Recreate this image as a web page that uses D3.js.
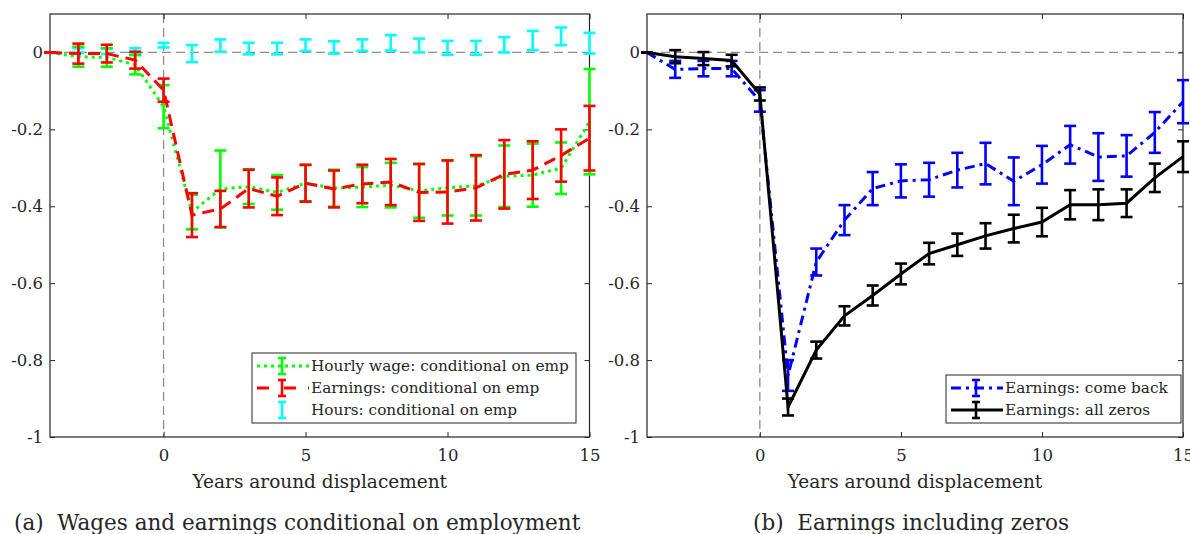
<!DOCTYPE html>
<html>
<head>
<meta charset="utf-8">
<script src="https://cdn.jsdelivr.net/npm/d3@7"></script>
<style>
body { margin: 0; background: #fff; }
text { font-family: "DejaVu Serif", "Liberation Serif", serif; fill: #262626; }
</style>
</head>
<body>
<script>
// years around displacement
let years = [-4,-3,-2,-1,0,1,2,3,4,5,6,7,8,9,10,11,12,13,14,15]
let xTicks = [0,5,10,15]
let yTicks = [-1,-0.8,-0.6,-0.4,-0.2,0]
let yTickLabels = ["-1","-0.8","-0.6","-0.4","-0.2","0"]

// panel (a)
let hourlyWage    = [0,-0.011,-0.013,-0.032,-0.141,-0.415,-0.355,-0.349,-0.364,-0.34,-0.353,-0.35,-0.345,-0.36,-0.352,-0.347,-0.322,-0.319,-0.301,-0.18]
let hourlyWageErr = [0,0.026,0.024,0.025,0.056,0.045,0.1,0.045,0.045,0.047,0.048,0.052,0.058,0.07,0.072,0.077,0.08,0.082,0.067,0.137]
let earnings      = [0,-0.003,-0.003,-0.02,-0.098,-0.423,-0.407,-0.354,-0.374,-0.34,-0.355,-0.342,-0.337,-0.364,-0.363,-0.352,-0.317,-0.306,-0.268,-0.223]
let earningsErr   = [0,0.026,0.023,0.022,0.03,0.057,0.047,0.049,0.049,0.048,0.048,0.05,0.06,0.074,0.082,0.085,0.089,0.075,0.068,0.084]
let hours         = [0,0.005,0.003,0.005,0.019,-0.003,0.018,0.01,0.01,0.019,0.013,0.019,0.025,0.018,0.012,0.012,0.02,0.031,0.042,0.024]
let hoursErr      = [0,0.006,0.007,0.006,0.006,0.022,0.016,0.015,0.015,0.015,0.016,0.015,0.02,0.018,0.018,0.018,0.02,0.025,0.023,0.027]

// panel (b)
let comeBack      = [0,-0.044,-0.042,-0.042,-0.126,-0.84,-0.545,-0.436,-0.354,-0.334,-0.331,-0.306,-0.289,-0.335,-0.292,-0.24,-0.272,-0.269,-0.208,-0.128]
let comeBackErr   = [0,0.022,0.02,0.02,0.028,0.04,0.035,0.039,0.043,0.043,0.044,0.045,0.054,0.062,0.049,0.049,0.062,0.054,0.053,0.056]
let allZeros      = [0,-0.011,-0.016,-0.021,-0.108,-0.922,-0.774,-0.685,-0.632,-0.576,-0.523,-0.5,-0.477,-0.458,-0.441,-0.396,-0.396,-0.392,-0.326,-0.271]
let allZerosErr   = [0,0.017,0.017,0.015,0.017,0.022,0.022,0.025,0.026,0.027,0.028,0.029,0.033,0.036,0.037,0.038,0.04,0.036,0.037,0.04]

let w = 1190
let h = 534
let font = "DejaVu Serif"
let svg = d3.select("body").append("svg").attr("width", w).attr("height", h)

function panel(left, right, series, legend, caption, capX) {
    let x = d3.scaleLinear().domain([-4,15]).range([left, right])
    let y = d3.scaleLinear().domain([-1,0.1]).range([437,14])
    let g = svg.append("g")

    // reference lines
    g.append("line").attr("x1", x(-4)).attr("x2", x(15)).attr("y1", y(0)).attr("y2", y(0))
        .attr("stroke", "#8c8c8c").attr("stroke-width", 1.3).attr("stroke-dasharray", "9,5")
    g.append("line").attr("x1", x(0)).attr("x2", x(0)).attr("y1", y(0.1)).attr("y2", y(-1))
        .attr("stroke", "#8c8c8c").attr("stroke-width", 1.3).attr("stroke-dasharray", "9,5")

    let xAxis = d3.axisBottom(x).tickValues(xTicks).tickSize(-5).tickPadding(12).tickFormat(d=>d)
    let yAxis = d3.axisLeft(y).tickValues(yTicks).tickSize(-5).tickPadding(7).tickFormat((d,i)=>yTickLabels[i])
    let ax = g.append("g").attr("transform", `translate(0,${y(-1)})`).call(xAxis)
    let ay = g.append("g").attr("transform", `translate(${x(-4)},0)`).call(yAxis)
    let at = g.append("g").attr("transform", `translate(0,${y(0.1)})`).call(d3.axisTop(x).tickValues(xTicks).tickSize(-5).tickFormat(""))
    let ar = g.append("g").attr("transform", `translate(${x(15)},0)`).call(d3.axisRight(y).tickValues(yTicks).tickSize(-5).tickFormat(""))
    for (let a of [ax, ay, at, ar]) {
        a.attr("font-family", font)
        a.select(".domain").remove()
        a.selectAll("line").attr("stroke", "#262626")
        a.selectAll("text").attr("font-size", 16.5).attr("fill", "#262626")
    }
    g.append("rect").attr("x", x(-4)).attr("y", y(0.1)).attr("width", x(15)-x(-4)).attr("height", y(-1)-y(0.1))
        .attr("fill", "none").attr("stroke", "#262626").attr("stroke-width", 1.2)

    for (let s of series) {
        let sg = g.append("g")
        sg.selectAll(".bar").data(years).enter().append("line")
            .attr("x1", d=>x(d)).attr("x2", d=>x(d))
            .attr("y1", (d,i)=>y(s.v[i]+s.e[i])).attr("y2", (d,i)=>y(s.v[i]-s.e[i]))
            .attr("stroke", s.c).attr("stroke-width", 2.6)
        for (let sign of [1,-1]) {
            sg.selectAll(".cap"+sign).data(years).enter().append("line")
                .attr("x1", d=>x(d)-6).attr("x2", d=>x(d)+6)
                .attr("y1", (d,i)=>y(s.v[i]+sign*s.e[i])).attr("y2", (d,i)=>y(s.v[i]+sign*s.e[i]))
                .attr("stroke", s.c).attr("stroke-width", 2.6)
        }
        if (s.dash !== null) {
            sg.append("path").datum(years)
                .attr("d", d3.line().x(d=>x(d)).y((d,i)=>y(s.v[i])))
                .attr("fill", "none").attr("stroke", s.c).attr("stroke-width", 3)
                .attr("stroke-dasharray", s.dash)
        }
    }

    // legend
    let lg = g.append("g").attr("font-family", font)
    lg.append("rect").attr("x", legend.x).attr("y", legend.y).attr("width", legend.w).attr("height", legend.h)
        .attr("fill", "#fff").attr("stroke", "#262626").attr("stroke-width", 1)
    series.slice().sort((a,b)=>a.order-b.order).forEach((s,i)=>{
        let cy = legend.y + 13 + i*22
        if (s.dash !== null) {
            lg.append("line").attr("x1", legend.x+5).attr("x2", legend.x+57).attr("y1", cy).attr("y2", cy)
                .attr("stroke", s.c).attr("stroke-width", 3).attr("stroke-dasharray", s.legDash)
        }
        let cx = legend.x + 30
        lg.append("line").attr("x1", cx).attr("x2", cx).attr("y1", cy-8).attr("y2", cy+8).attr("stroke", s.c).attr("stroke-width", 2.6)
        lg.append("line").attr("x1", cx-4).attr("x2", cx+4).attr("y1", cy-8).attr("y2", cy-8).attr("stroke", s.c).attr("stroke-width", 2.6)
        lg.append("line").attr("x1", cx-4).attr("x2", cx+4).attr("y1", cy+8).attr("y2", cy+8).attr("stroke", s.c).attr("stroke-width", 2.6)
        lg.append("text").attr("x", legend.x+59).attr("y", cy).attr("dy", "0.35em")
            .attr("font-size", 15.3).text(s.name)
    })

    g.append("text").attr("x", (x(-4)+x(15))/2).attr("y", 488).attr("text-anchor", "middle")
        .attr("font-family", font).attr("font-size", 18.5).text("Years around displacement")
    g.append("text").attr("x", capX).attr("y", 530).attr("font-family", font).attr("font-size", 21.5)
        .style("white-space", "pre").text(caption)
}

panel(50, 589.5, [
    {name: "Hours: conditional on emp", v: hours, e: hoursErr, c: "#00ffff", dash: null, order: 2},
    {name: "Hourly wage: conditional on emp", v: hourlyWage, e: hourlyWageErr, c: "#00ff00", dash: "3,4", legDash: "3,4", order: 0},
    {name: "Earnings: conditional on emp", v: earnings, e: earningsErr, c: "#ff0000", dash: "12,7", legDash: "12,15,12,12", order: 1}
], {x: 252, y: 353, w: 324, h: 70}, "(a)  Wages and earnings conditional on employment", 14)

panel(647, 1183, [
    {name: "Earnings: come back", v: comeBack, e: comeBackErr, c: "#0000ff", dash: "10,5,3,5", legDash: "10,5,3,5", order: 0},
    {name: "Earnings: all zeros", v: allZeros, e: allZerosErr, c: "#000000", dash: "", legDash: "", order: 1}
], {x: 946, y: 375, w: 235, h: 48}, "(b)  Earnings including zeros", 753)
</script>
</body>
</html>
